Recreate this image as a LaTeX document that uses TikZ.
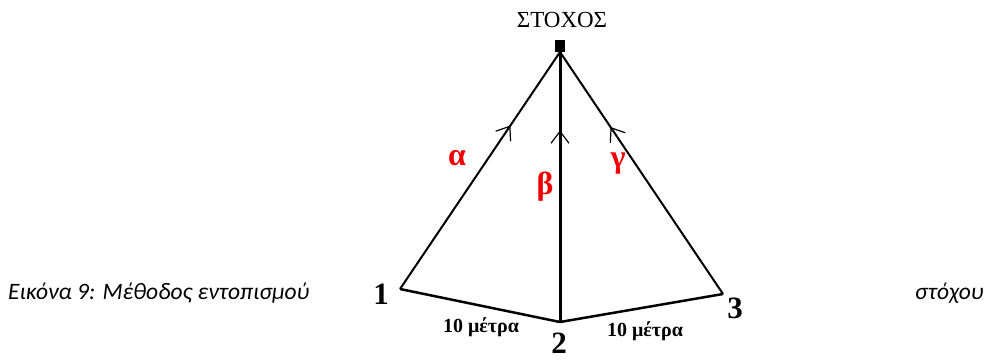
\documentclass[tikz,border=0pt]{standalone}
\usepackage{fontspec}
\setmainfont{Liberation Serif}
\newfontfamily\capfont{Carlito}
\usetikzlibrary{arrows.meta,decorations.markings}
\definecolor{lblred}{RGB}{240,0,0}
\tikzset{
  ray/.style={line width=2pt},
  midarrow/.style={postaction={decorate},decoration={markings,
    mark=at position #1 with {\arrow{Straight Barb[length=12pt,width=18pt,line width=1.2pt]}}}},
  num/.style={font=\fontsize{31}{31}\selectfont\bfseries, inner sep=0pt, anchor=base},
  dist/.style={font=\fontsize{20}{20}\selectfont\bfseries, inner sep=0pt, anchor=base},
  greek/.style={font=\fontsize{32}{32}\selectfont\bfseries, text=lblred},
  captxt/.style={font=\capfont\itshape\fontsize{23.5}{23.5}\selectfont, inner sep=0pt}
}
\begin{document}
\begin{tikzpicture}[x=1pt,y=-1pt]
\useasboundingbox (0,0) rectangle (985,360);
\node[fill=black, minimum width=10pt, minimum height=12pt, inner sep=0pt] (T) at (560,46) {};
\node[font=\fontsize{23}{23}\selectfont] (lblT) at (562,20) {ΣΤΟΧΟΣ};
\coordinate (P1) at (400,289);
\coordinate (P2) at (560,322);
\coordinate (P3) at (723,294);
\coordinate (Tb) at (560,52);
\draw[ray, midarrow=0.69] (P1) -- (Tb);
\draw[line width=3pt, midarrow=0.71] (P2) -- (Tb);
\draw[ray, midarrow=0.69] (P3) -- (Tb);
\draw[line width=2.5pt, line join=round] (P1) -- (P2) -- (P3);
\node[num] (n1) at (381,304) {1};
\node[num] (n2) at (559,353) {2};
\node[num] (n3) at (735,318) {3};
\node[dist] (d1) at (481,332) {10 μέτρα};
\node[dist] (d2) at (645,336) {10 μέτρα};
\node[greek] (ga) at (457,158) {α};
\node[greek] (gb) at (545,187) {β};
\node[greek] (gc) at (618,164) {γ};
\node[captxt, anchor=base west] (cap1) at (8,299) {Εικόνα 9: Μέθοδος εντοπισμού};
\node[captxt, anchor=base west] (cap2) at (915,299) {στόχου};
\end{tikzpicture}
\end{document}
